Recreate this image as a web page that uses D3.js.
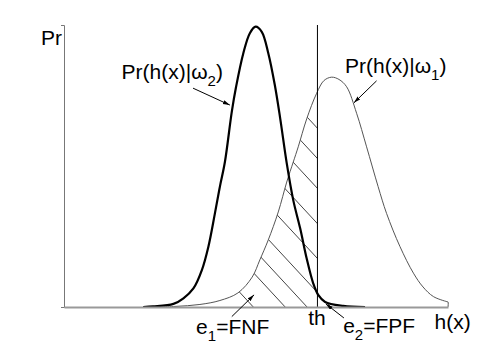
<!DOCTYPE html>
<html>
<head>
<meta charset="utf-8">
<script src="https://cdn.jsdelivr.net/npm/d3@7"></script>
<style>
  body { margin: 0; background: #fff; }
  text { font-family: "Liberation Sans", Arial, sans-serif; font-size: 21px; fill: #000; }
</style>
</head>
<body>
<div id="chart"></div>
<script>
// curve samples (h(x) on 0..10, Pr on 0..1)
var w2X = [2.06, 2.32, 2.85, 3.11, 3.37, 3.59, 3.76, 3.93, 4.06, 4.19, 4.37, 4.48, 4.67, 4.84, 4.99, 5.15, 5.32, 5.49, 5.63, 5.80, 5.97, 6.15, 6.32, 6.49, 6.62, 6.80, 7.27, 7.84];
var w2Y = [0, 0.002, 0.011, 0.031, 0.066, 0.131, 0.214, 0.332, 0.427, 0.514, 0.693, 0.780, 0.900, 0.971, 0.994, 0.976, 0.900, 0.787, 0.669, 0.510, 0.379, 0.279, 0.172, 0.084, 0.043, 0.018, 0.004, 0];

var w1X = [2.24, 2.89, 3.54, 4.06, 4.53, 4.90, 5.10, 5.32, 5.58, 5.80, 5.97, 6.10, 6.32, 6.58, 6.77, 6.97, 7.16, 7.36, 7.62, 7.88, 8.18, 8.40, 8.75, 9.10, 9.35, 9.62, 9.97, 10.0];
var w1Y = [0, 0.002, 0.009, 0.023, 0.050, 0.106, 0.167, 0.238, 0.337, 0.443, 0.514, 0.568, 0.667, 0.758, 0.803, 0.815, 0.807, 0.781, 0.687, 0.568, 0.427, 0.332, 0.214, 0.120, 0.071, 0.037, 0.019, 0.018];

var threshold = 6.60;
// where the hatch lines meet the baseline
var hatchAt = [4.93, 5.76, 6.33, 6.95, 7.77, 8.61, 9.46, 10.18, 10.91];

var width = 494, height = 346;
var svg = d3.select("#chart").append("svg")
    .attr("width", width)
    .attr("height", height);

var x = d3.scaleLinear().domain([0, 10]).range([64, 448]);
var y = d3.scaleLinear().domain([0, 1]).range([307, 25]);

var w1 = w1X.map(function(d, i) { return [d, w1Y[i]]; });
var w2 = w2X.map(function(d, i) { return [d, w2Y[i]]; });

var line = d3.line()
    .x(function(d) { return x(d[0]); })
    .y(function(d) { return y(d[1]); })
    .curve(d3.curveCatmullRom.alpha(0.5));
var area = d3.area()
    .x(function(d) { return x(d[0]); })
    .y0(y(0))
    .y1(function(d) { return y(d[1]); })
    .curve(d3.curveCatmullRom.alpha(0.5));

var defs = svg.append("defs");
defs.append("clipPath").attr("id", "leftOfTh").append("rect")
    .attr("x", 0).attr("y", 0).attr("width", x(threshold)).attr("height", y(0));
defs.append("clipPath").attr("id", "rightOfTh").append("rect")
    .attr("x", x(threshold)).attr("y", 0).attr("width", width).attr("height", y(0));
defs.append("clipPath").attr("id", "underW1").append("path").attr("d", area(w1));
defs.append("clipPath").attr("id", "underW2").append("path").attr("d", area(w2));
defs.append("marker")
    .attr("id", "head")
    .attr("markerUnits", "userSpaceOnUse")
    .attr("markerWidth", 8).attr("markerHeight", 6)
    .attr("refX", 7).attr("refY", 2)
    .attr("orient", "auto")
  .append("path")
    .attr("d", "M0,0L7,2L0,4Z")
    .attr("fill", "#000");

// hatching: e1 under w1 left of th, e2 under w2 right of th
function hatch(g) {
  g.selectAll("line")
    .data(hatchAt)
    .enter().append("line")
      .attr("x1", function(d) { return x(d); })
      .attr("y1", y(0))
      .attr("x2", function(d) { return x(d) - 300; })
      .attr("y2", y(0) - 300 * 1.08)
      .attr("stroke", "#444")
      .attr("stroke-width", 1);
}
svg.append("g").attr("clip-path", "url(#leftOfTh)")
  .append("g").attr("clip-path", "url(#underW1)")
  .call(hatch);
svg.append("g").attr("clip-path", "url(#rightOfTh)")
  .append("g").attr("clip-path", "url(#underW2)")
  .call(hatch);

// curves
svg.append("path")
    .attr("d", line(w1.concat([[10.0, 0]])))
    .attr("fill", "none")
    .attr("stroke", "#555")
    .attr("stroke-width", 1);
svg.append("path")
    .attr("d", line(w2))
    .attr("fill", "none")
    .attr("stroke", "#000")
    .attr("stroke-width", 2.2);

// threshold
svg.append("line")
    .attr("x1", x(threshold)).attr("x2", x(threshold))
    .attr("y1", y(1)).attr("y2", y(0))
    .attr("stroke", "#000").attr("stroke-width", 1);

// axes
var yAxis = svg.append("g")
    .attr("transform", "translate(" + x(0) + ",0)")
    .call(d3.axisLeft(y).ticks(0).tickSizeOuter(3));
yAxis.select(".domain").attr("stroke", "#777");
var xAxis = svg.append("g")
    .attr("transform", "translate(0," + y(0) + ")")
    .call(d3.axisBottom(x).ticks(0).tickSizeOuter(0));
xAxis.select(".domain").attr("stroke", "#999").attr("stroke-width", 2);

// arrows
var arrows = [
  [3.36, 0.776, 4.32, 0.716],
  [8.14, 0.802, 7.55, 0.724],
  [4.37, -0.034, 4.95, 0.043],
  [7.29, -0.039, 6.82, 0.011]
];
svg.selectAll(".arrow")
  .data(arrows)
  .enter().append("line")
    .attr("class", "arrow")
    .attr("x1", function(d) { return x(d[0]); })
    .attr("y1", function(d) { return y(d[1]); })
    .attr("x2", function(d) { return x(d[2]); })
    .attr("y2", function(d) { return y(d[3]); })
    .attr("stroke", "#000")
    .attr("stroke-width", 1)
    .attr("marker-end", "url(#head)");

// labels: [main, subscript, tail, h(x), Pr]
var labels = [
  ["Pr", "", "", -0.60, 0.929],
  ["Pr(h(x)|\u03c9", "2", ")", 1.50, 0.809],
  ["Pr(h(x)|\u03c9", "1", ")", 7.32, 0.830],
  ["e", "1", "=FNF", 3.44, -0.096],
  ["th", "", "", 6.36, -0.064],
  ["e", "2", "=FPF", 7.27, -0.092],
  ["h(x)", "", "", 9.65, -0.078]
];
labels.forEach(function(l) {
  var t = svg.append("text")
      .attr("x", x(l[3]))
      .attr("y", y(l[4]));
  t.append("tspan").text(l[0]);
  if (l[1]) {
    t.append("tspan").attr("dy", 7).style("font-size", "15px").text(l[1]);
    t.append("tspan").attr("dy", -7).text(l[2]);
  }
});
</script>
</body>
</html>
